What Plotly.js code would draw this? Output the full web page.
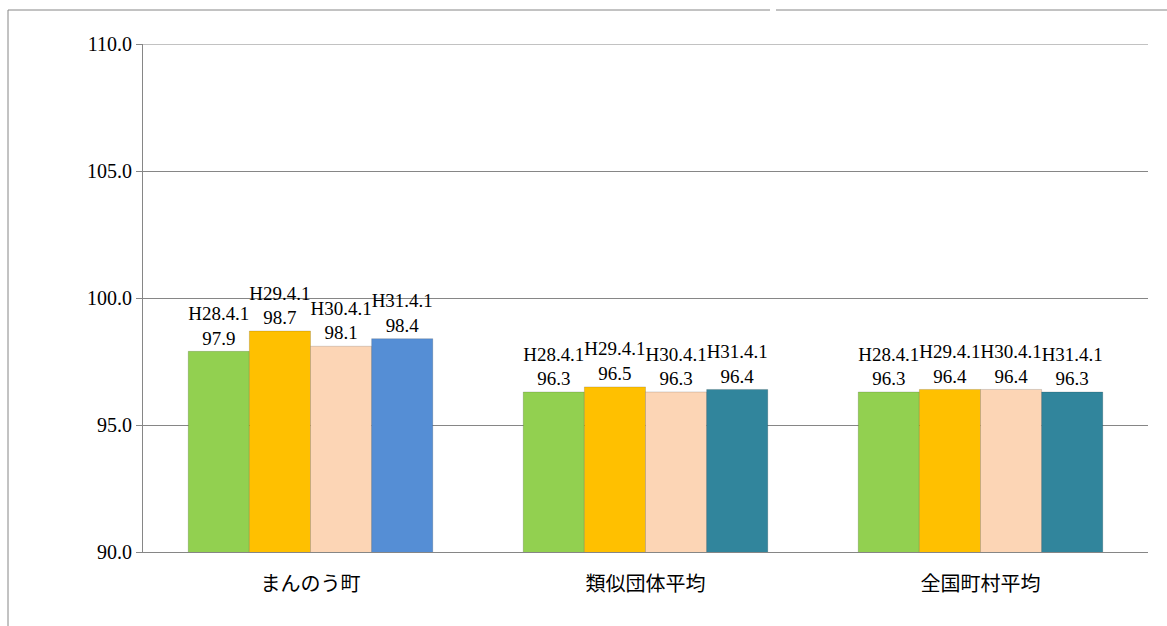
<!DOCTYPE html>
<html><head><meta charset="utf-8">
<script src="https://cdn.plot.ly/plotly-3.0.1.min.js"></script>
<style>body{margin:0;background:#fff}</style></head>
<body><div id="c" style="width:1167px;height:626px"></div>
<script>
const categories = ["まんのう町", "類似団体平均", "全国町村平均"];
const seriesNames = ["H28.4.1", "H29.4.1", "H30.4.1", "H31.4.1"];
const h28 = [97.9, 96.3, 96.3];
const h29 = [98.7, 96.5, 96.4];
const h30 = [98.1, 96.3, 96.4];
const h31 = [98.4, 96.4, 96.3];
const values = [h28, h29, h30, h31];
const colors = [
  ["#92D050","#92D050","#92D050"],
  ["#FFC000","#FFC000","#FFC000"],
  ["#FCD5B5","#FCD5B5","#FCD5B5"],
  ["#558ED5","#31859C","#31859C"]
];
const traces = values.map((v,i)=>({
  type:"bar", x:categories, y:v, name:seriesNames[i],
  marker:{color:colors[i], line:{color:"rgba(0,0,0,0.15)", width:1}},
  text:v.map(d=>seriesNames[i]+"<br>"+d.toFixed(1)),
  textposition:"outside", cliponaxis:false,
  textfont:{family:"Liberation Serif, DejaVu Serif, serif", size:20, color:"#000"},
  hoverinfo:"none"
}));
const W=1005, H=508;
Plotly.newPlot("c", traces, {
  width:1167, height:626, showlegend:false, barmode:"group",
  bargap:0.27, bargroupgap:0, uniformtext:{mode:false},
  margin:{l:143, r:19, t:44, b:74},
  paper_bgcolor:"#fff", plot_bgcolor:"#fff",
  yaxis:{range:[90,110], dtick:5, tickformat:".1f", showgrid:true, gridcolor:"#868686",
    showline:true, linecolor:"#868686", ticks:"outside", ticklen:6, tickcolor:"#868686",
    tickfont:{family:"Liberation Serif, serif", size:20, color:"#000"}},
  xaxis:{showline:true, linecolor:"#868686", ticks:"", ticklabelstandoff:14,
    tickfont:{family:"Noto Sans CJK JP", size:20, color:"#000"}},
  shapes:[
    {type:"line", xref:"paper", yref:"y", x0:0, x1:1, y0:110, y1:110, line:{color:"#868686", width:1}},
    {type:"line", xref:"paper", yref:"paper", x0:-135/W, x1:-135/W, y0:-74/H, y1:(616-74)/H, line:{color:"#868686", width:1}},
    {type:"line", xref:"paper", yref:"paper", x0:-135/W, x1:(770-143)/W, y0:(616-74)/H, y1:(616-74)/H, line:{color:"#868686", width:1}},
    {type:"line", xref:"paper", yref:"paper", x0:(776-143)/W, x1:1.02, y0:(616-74)/H, y1:(616-74)/H, line:{color:"#868686", width:1}}
  ]
}, {staticPlot:true});
</script></body></html>
